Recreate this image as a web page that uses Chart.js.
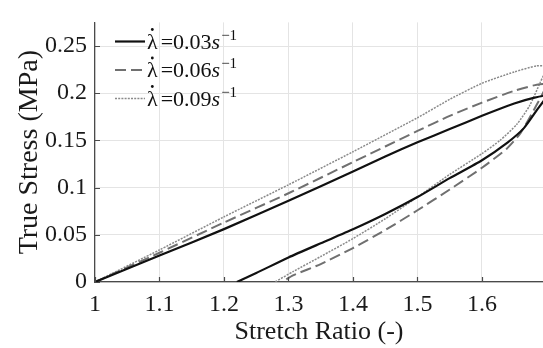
<!DOCTYPE html>
<html>
<head>
<meta charset="utf-8">
<script src="https://cdn.jsdelivr.net/npm/chart.js@4.4.1/dist/chart.umd.min.js"></script>
<style>
  html, body { margin: 0; padding: 0; background: #ffffff; }
  #wrap { width: 543px; height: 348px; }
</style>
</head>
<body>
<div id="wrap"><canvas id="c" width="543" height="348"></canvas></div>
<script>
// ---- data ----
const rateLabels = ['0.03', '0.06', '0.09'];

const stretch003 = [1.00,1.10,1.20,1.30,1.40,1.45,1.50,1.55,1.60,1.65,1.68,1.70,
                    1.685,1.665,1.64,1.60,1.55,1.50,1.45,1.40,1.35,1.30,1.25,1.22];
const stress003  = [0,0.028,0.056,0.086,0.117,0.133,0.148,0.162,0.176,0.189,0.195,0.197,
                    0.182,0.163,0.148,0.129,0.110,0.090,0.072,0.0558,0.041,0.026,0.0095,0];

const stretch006 = [1.00,1.10,1.20,1.30,1.40,1.50,1.55,1.60,1.65,1.685,1.70,
                    1.685,1.66,1.638,1.60,1.55,1.50,1.45,1.40,1.35,1.307,1.29];
const stress006  = [0,0.031,0.063,0.094,0.127,0.160,0.176,0.190,0.2025,0.209,0.209,
                    0.188,0.158,0.141,0.121,0.098,0.076,0.055,0.036,0.019,0.007,0];

const stretch009 = [1.00,1.10,1.20,1.30,1.40,1.50,1.55,1.60,1.65,1.685,1.70,
                    1.69,1.674,1.654,1.628,1.60,1.55,1.50,1.45,1.40,1.35,1.307,1.279];
const stress009  = [0,0.034,0.069,0.103,0.138,0.174,0.1935,0.2105,0.2225,0.229,0.228,
                    0.211,0.187,0.167,0.150,0.136,0.114,0.090,0.067,0.046,0.027,0.011,0];

const xTickValues = [1, 1.1, 1.2, 1.3, 1.4, 1.5, 1.6];
const yTickValues = [0, 0.05, 0.1, 0.15, 0.2, 0.25];

// ---- build ----
const toPts = (xs, ys) => xs.map((x, i) => ({ x: x, y: ys[i] }));
const serif = '"Liberation Serif", "Times New Roman", serif';
const axisColor = '#4a4a4a';

const styles = [
  { color: '#111111', width: 2.2, dash: [] },
  { color: '#707070', width: 2.0, dash: [11, 5] },
  { color: '#8a8a8a', width: 1.5, dash: [2, 1.2] }
];

const datasets = [
  toPts(stretch003, stress003),
  toPts(stretch006, stress006),
  toPts(stretch009, stress009)
].map((pts, i) => ({
  label: rateLabels[i],
  data: pts,
  borderColor: styles[i].color,
  borderWidth: styles[i].width,
  borderDash: styles[i].dash,
  pointRadius: 0,
  fill: false,
  tension: 0.2
}));

const innerTicks = {
  id: 'innerTicks',
  afterDraw(chart) {
    const ctx = chart.ctx, a = chart.chartArea;
    const xs = chart.scales.x, ys = chart.scales.y;
    ctx.save();
    ctx.strokeStyle = axisColor;
    ctx.lineWidth = 1.2;
    ctx.beginPath();
    xTickValues.forEach(v => {
      const px = Math.round(xs.getPixelForValue(v)) + 0.5;
      ctx.moveTo(px, a.bottom); ctx.lineTo(px, a.bottom - 5);
    });
    yTickValues.forEach(v => {
      const py = Math.round(ys.getPixelForValue(v)) + 0.5;
      ctx.moveTo(a.left, py); ctx.lineTo(a.left + 5, py);
    });
    ctx.stroke();
    ctx.restore();
  }
};

const innerLegend = {
  id: 'innerLegend',
  afterDraw(chart) {
    const ctx = chart.ctx;
    const x0 = 115, x1 = 145, rowY = [41.5, 70, 98.5];
    ctx.save();
    chart.data.datasets.forEach((ds, i) => {
      const y = rowY[i];
      ctx.strokeStyle = ds.borderColor;
      ctx.lineWidth = ds.borderWidth;
      ctx.setLineDash(ds.borderDash);
      ctx.beginPath(); ctx.moveTo(x0, y); ctx.lineTo(x1, y); ctx.stroke();
      ctx.setLineDash([]);
      ctx.fillStyle = '#111111';
      ctx.textBaseline = 'alphabetic';
      let tx = 147; const by = y + 7;
      ctx.font = '22px ' + serif;
      ctx.fillText('λ', tx, by);
      const w = ctx.measureText('λ').width;
      // dot accent over lambda (time derivative)
      ctx.beginPath(); ctx.arc(tx + w * 0.5, by - 19, 1.4, 0, Math.PI * 2); ctx.fill();
      tx += w + 3;
      const t = '=' + ds.label;
      ctx.fillText(t, tx, by); tx += ctx.measureText(t).width;
      ctx.font = 'italic 22px ' + serif;
      ctx.fillText('s', tx, by); tx += ctx.measureText('s').width + 1;
      ctx.font = '15px ' + serif;
      ctx.fillText('−1', tx, by - 9);
    });
    ctx.restore();
  }
};

new Chart(document.getElementById('c'), {
  type: 'line',
  data: { datasets: datasets },
  options: {
    responsive: false,
    animation: false,
    devicePixelRatio: 1,
    layout: { padding: { top: 11, right: 0, left: 0, bottom: 0 } },
    plugins: { legend: { display: false }, tooltip: { enabled: false } },
    scales: {
      x: {
        type: 'linear',
        min: 1, max: 1.6946,
        afterFit(s) { s.height = 66; },
        border: { display: true, color: axisColor, width: 1.2 },
        grid: { color: '#e4e4e4', lineWidth: 1, drawTicks: false },
        ticks: {
          stepSize: 0.1, includeBounds: false, padding: 8,
          color: '#1a1a1a', font: { family: serif, size: 24 },
          maxRotation: 0, autoSkip: false,
          callback: v => String(Math.round(v * 10) / 10)
        },
        title: { display: true, text: 'Stretch Ratio (-)', color: '#1a1a1a',
                 font: { family: serif, size: 26 }, padding: { top: 0, bottom: 0 } }
      },
      y: {
        type: 'linear',
        min: 0, max: 0.275,
        afterFit(s) { s.width = 95; },
        border: { display: true, color: axisColor, width: 1.2 },
        grid: { color: '#e4e4e4', lineWidth: 1, drawTicks: false },
        ticks: {
          stepSize: 0.05, includeBounds: false, padding: 8,
          color: '#1a1a1a', font: { family: serif, size: 24 },
          callback: v => String(Math.round(v * 100) / 100)
        },
        title: { display: true, text: 'True Stress (MPa)', color: '#1a1a1a',
                 font: { family: serif, size: 28 }, padding: { top: 13, bottom: 0 } }
      }
    }
  },
  plugins: [innerTicks, innerLegend]
});
</script>
</body>
</html>
